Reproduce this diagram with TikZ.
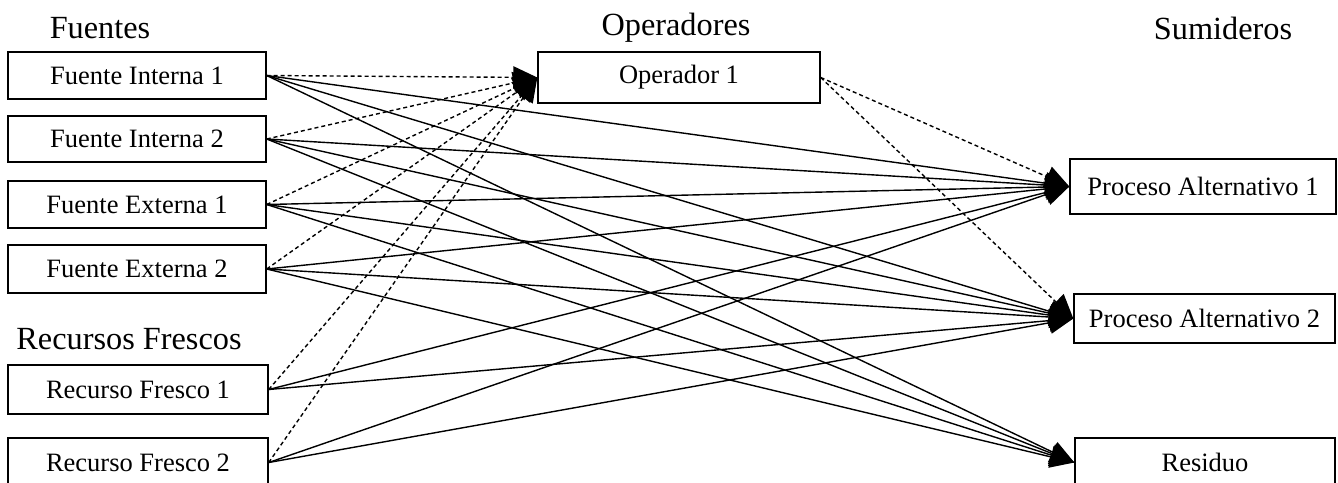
\documentclass[tikz,border=0pt]{standalone}
\usepackage{fontspec}
\setmainfont{Liberation Serif}
\usetikzlibrary{arrows.meta}
\tikzset{
  box/.style={draw, line width=1.4pt, rectangle, inner sep=0pt, font=\fontsize{26.5}{31}\selectfont},
  head/.style={inner sep=0pt, font=\fontsize{32.3}{38}\selectfont},
  flow/.style={line width=1.4pt, -{Triangle[length=24pt, width=22pt]}},
  opflow/.style={flow, dash pattern=on 4pt off 3pt},
}
\begin{document}
\begin{tikzpicture}[x=1pt, y=-1pt]
\clip (0,0) rectangle (1338,482);
\fill[white] (0,0) rectangle (1338,482);
% headers
\node[head] (hf) at (100,28) {Fuentes};
\node[head] (ho) at (676,28) {Operadores};
\node[head] (hs) at (1223,28) {Sumideros};
\node[head] (hr) at (129,339) {Recursos Frescos};
% sources
\node[box, minimum width=258pt, minimum height=47pt] (fi1) at (137,75.5) {Fuente Interna 1};
\node[box, minimum width=258pt, minimum height=46pt] (fi2) at (137,139) {Fuente Interna 2};
\node[box, minimum width=258pt, minimum height=47pt] (fe1) at (137,204.5) {Fuente Externa 1};
\node[box, minimum width=258pt, minimum height=48pt] (fe2) at (137,269) {Fuente Externa 2};
\node[box, minimum width=260pt, minimum height=49pt] (rf1) at (138,389.5) {Recurso Fresco 1};
\node[box, minimum width=260pt, minimum height=49pt] (rf2) at (138,462.5) {Recurso Fresco 2};
% operator
\node[box, minimum width=282pt, minimum height=51pt] (op) at (679,77.5) {Operador 1};
% sinks
\node[box, minimum width=266pt, minimum height=55pt] (pa1) at (1203,186.5) {Proceso Alternativo 1};
\node[box, minimum width=261pt, minimum height=49pt] (pa2) at (1204.5,318.5) {Proceso Alternativo 2};
\node[box, minimum width=260pt, minimum height=49pt] (res) at (1205,462.5) {Residuo};
% dashed to operator
\foreach \s in {fi1,fi2,fe1,fe2,rf1,rf2}
  \draw[opflow] (\s.east) -- (op.west);
% dashed from operator
\draw[opflow] (op.east) -- (pa1.west);
\draw[opflow] (op.east) -- (pa2.west);
% solid flows
\foreach \s in {fi1,fi2,fe1,fe2,rf1,rf2} {
  \draw[flow] (\s.east) -- (pa1.west);
  \draw[flow] (\s.east) -- (pa2.west);
}
\foreach \s in {fi1,fi2,fe1,fe2}
  \draw[flow] (\s.east) -- (res.west);
\end{tikzpicture}
\end{document}
